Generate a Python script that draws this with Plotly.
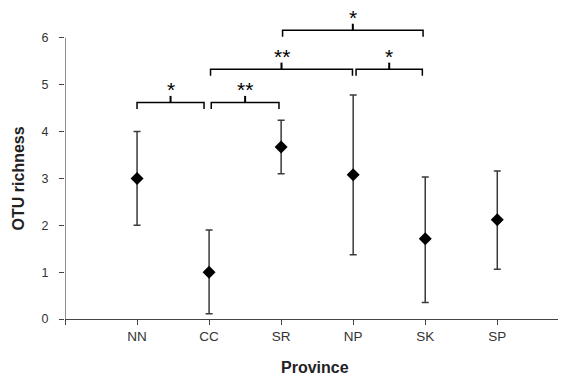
import plotly.graph_objects as go

# ---- data ----
provinces = ["NN", "CC", "SR", "NP", "SK", "SP"]
x_pos = [1, 2, 3, 4, 5, 6]
mean_richness = [3.0, 1.0, 3.67, 3.08, 1.71, 2.12]
upper_bound = [4.0, 1.90, 4.24, 4.78, 3.03, 3.16]
lower_bound = [2.0, 0.11, 3.10, 1.37, 0.35, 1.06]

# significance brackets (data units)
br_x0 = [1.0, 2.03, 2.02, 4.04, 3.02]
br_x1 = [1.93, 2.97, 3.99, 4.96, 4.97]
br_y = [4.62, 4.62, 5.33, 5.33, 6.16]
br_label = ["*", "**", "**", "*", "*"]

err_plus = [u - m for u, m in zip(upper_bound, mean_richness)]
err_minus = [m - l for m, l in zip(mean_richness, lower_bound)]

FONT = "Liberation Sans, Arial, sans-serif"
Y_TOP = 6.55

fig = go.Figure()
fig.add_trace(go.Scatter(
    x=x_pos, y=mean_richness, mode="markers",
    marker=dict(symbol="diamond", size=10, color="black"),
    error_y=dict(type="data", symmetric=False, array=err_plus, arrayminus=err_minus,
                 color="#3a3a3a", thickness=1.5, width=3.5),
    showlegend=False, cliponaxis=False,
))

shapes = []
annotations = []
drop = 0.14
for x0, x1, y, lab in zip(br_x0, br_x1, br_y, br_label):
    xc = (x0 + x1) / 2
    shapes.append(dict(type="path", xref="x", yref="y",
                       path=f"M {x0},{y - drop} L {x0},{y} L {x1},{y} L {x1},{y - drop}",
                       line=dict(color="black", width=1.5)))
    shapes.append(dict(type="line", xref="x", yref="y", x0=xc, x1=xc, y0=y, y1=y + drop,
                       line=dict(color="black", width=2)))
    annotations.append(dict(x=xc, y=y + drop, xref="x", yref="y", text=lab, showarrow=False,
                            yanchor="bottom", yshift=-7,
                            font=dict(family=FONT, size=21, color="black")))

# axis titles
annotations.append(dict(x=0.5, y=0, xref="paper", yref="paper", text="<b>Province</b>",
                        showarrow=False, yanchor="middle", yshift=-48,
                        font=dict(family=FONT, size=16, color="#222222")))
annotations.append(dict(x=0, y=3 / Y_TOP, xref="paper", yref="paper", text="<b>OTU richness</b>",
                        showarrow=False, textangle=-90, xanchor="center", xshift=-47,
                        font=dict(family=FONT, size=16, color="#222222")))

# y axis line from 0 to 6
shapes.append(dict(type="line", xref="x", yref="y", x0=0, x1=0, y0=0, y1=6,
                   line=dict(color="#444444", width=1.2)))

fig.update_layout(
    width=558, height=367,
    margin=dict(l=57, r=1, t=4, b=56, autoexpand=False),
    plot_bgcolor="white", paper_bgcolor="white",
    font=dict(family=FONT, size=13, color="#333333"),
    shapes=shapes, annotations=annotations,
    xaxis=dict(range=[0, 6.94], tickvals=[0] + x_pos, ticktext=[""] + provinces,
               ticks="outside", ticklen=5, tickcolor="#444444", showgrid=False,
               zeroline=False, showline=True, linecolor="#444444", linewidth=1.2,
               tickfont=dict(size=13.5), automargin=False),
    yaxis=dict(range=[0, Y_TOP], tickvals=[0, 1, 2, 3, 4, 5, 6],
               ticks="outside", ticklen=5, tickcolor="#444444", showgrid=False,
               zeroline=False, showline=False, ticklabelstandoff=8,
               tickfont=dict(size=12.5), automargin=False),
)

fig.write_html("out.html")
